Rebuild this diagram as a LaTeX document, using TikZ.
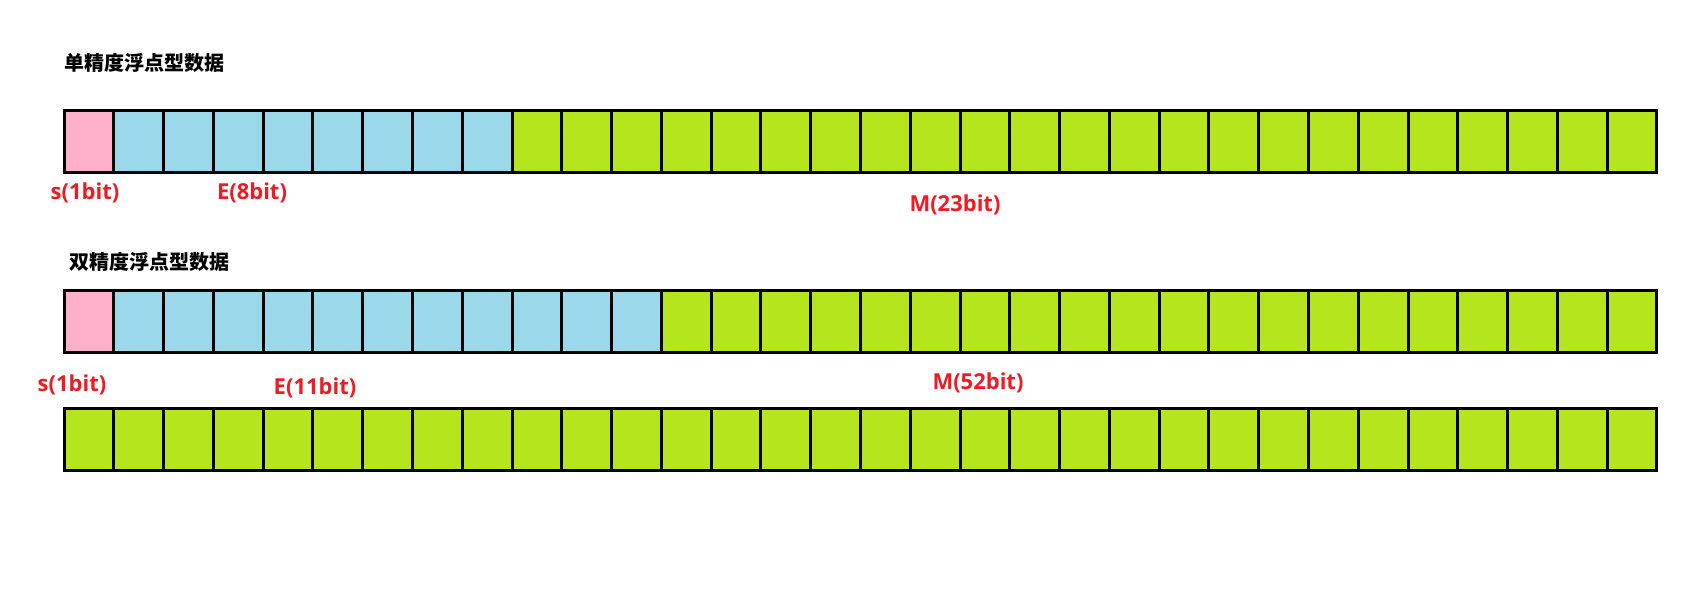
\documentclass[tikz,border=0pt]{standalone}
\usepackage{fontspec}
\setmainfont{Open Sans}
\newfontfamily\cjk{Noto Sans CJK SC}
\definecolor{pk}{HTML}{FFB0CB}
\definecolor{bl}{HTML}{9BD9EA}
\definecolor{gr}{HTML}{B5E61D}
\definecolor{rd}{HTML}{EC1C24}
\begin{document}
\begin{tikzpicture}[x=1pt,y=-1pt,
  cell/.style={draw=black,line width=3pt},
  lab/.style={text=rd,font=\fontsize{22}{24}\selectfont\bfseries,inner sep=0pt},
  ttl/.style={font=\cjk\fontsize{20}{22}\selectfont\bfseries,inner sep=0pt,anchor=west}]
\useasboundingbox (0,0) rectangle (1706,597);
\def\w{49.78}
% row 1
\foreach \i in {0,...,31}{
  \pgfmathsetmacro\c{\i==0?1:(\i<9?2:3)}
  \ifnum\c=1 \def\col{pk}\else\ifnum\c=2 \def\col{bl}\else\def\col{gr}\fi\fi
  \filldraw[cell,fill=\col] (64+\i*\w,110) rectangle (64+\i*\w+\w,172);
}
% row 2
\foreach \i in {0,...,31}{
  \pgfmathsetmacro\c{\i==0?1:(\i<12?2:3)}
  \ifnum\c=1 \def\col{pk}\else\ifnum\c=2 \def\col{bl}\else\def\col{gr}\fi\fi
  \filldraw[cell,fill=\col] (64+\i*\w,290) rectangle (64+\i*\w+\w,352);
}
% row 3
\foreach \i in {0,...,31}{
  \filldraw[cell,fill=gr] (64+\i*\w,408) rectangle (64+\i*\w+\w,470);
}
\node[ttl] (t1) at (64,63) {单精度浮点型数据};
\node[ttl] (t2) at (69,262) {双精度浮点型数据};
\node[lab] (s1) at (85,193) {s(1bit)};
\node[lab] (e1) at (252,193) {E(8bit)};
\node[lab] (m1) at (955,205) {M(23bit)};
\node[lab] (s2) at (72,385) {s(1bit)};
\node[lab] (e2) at (315,388) {E(11bit)};
\node[lab] (m2) at (978,383) {M(52bit)};
\end{tikzpicture}
\end{document}
